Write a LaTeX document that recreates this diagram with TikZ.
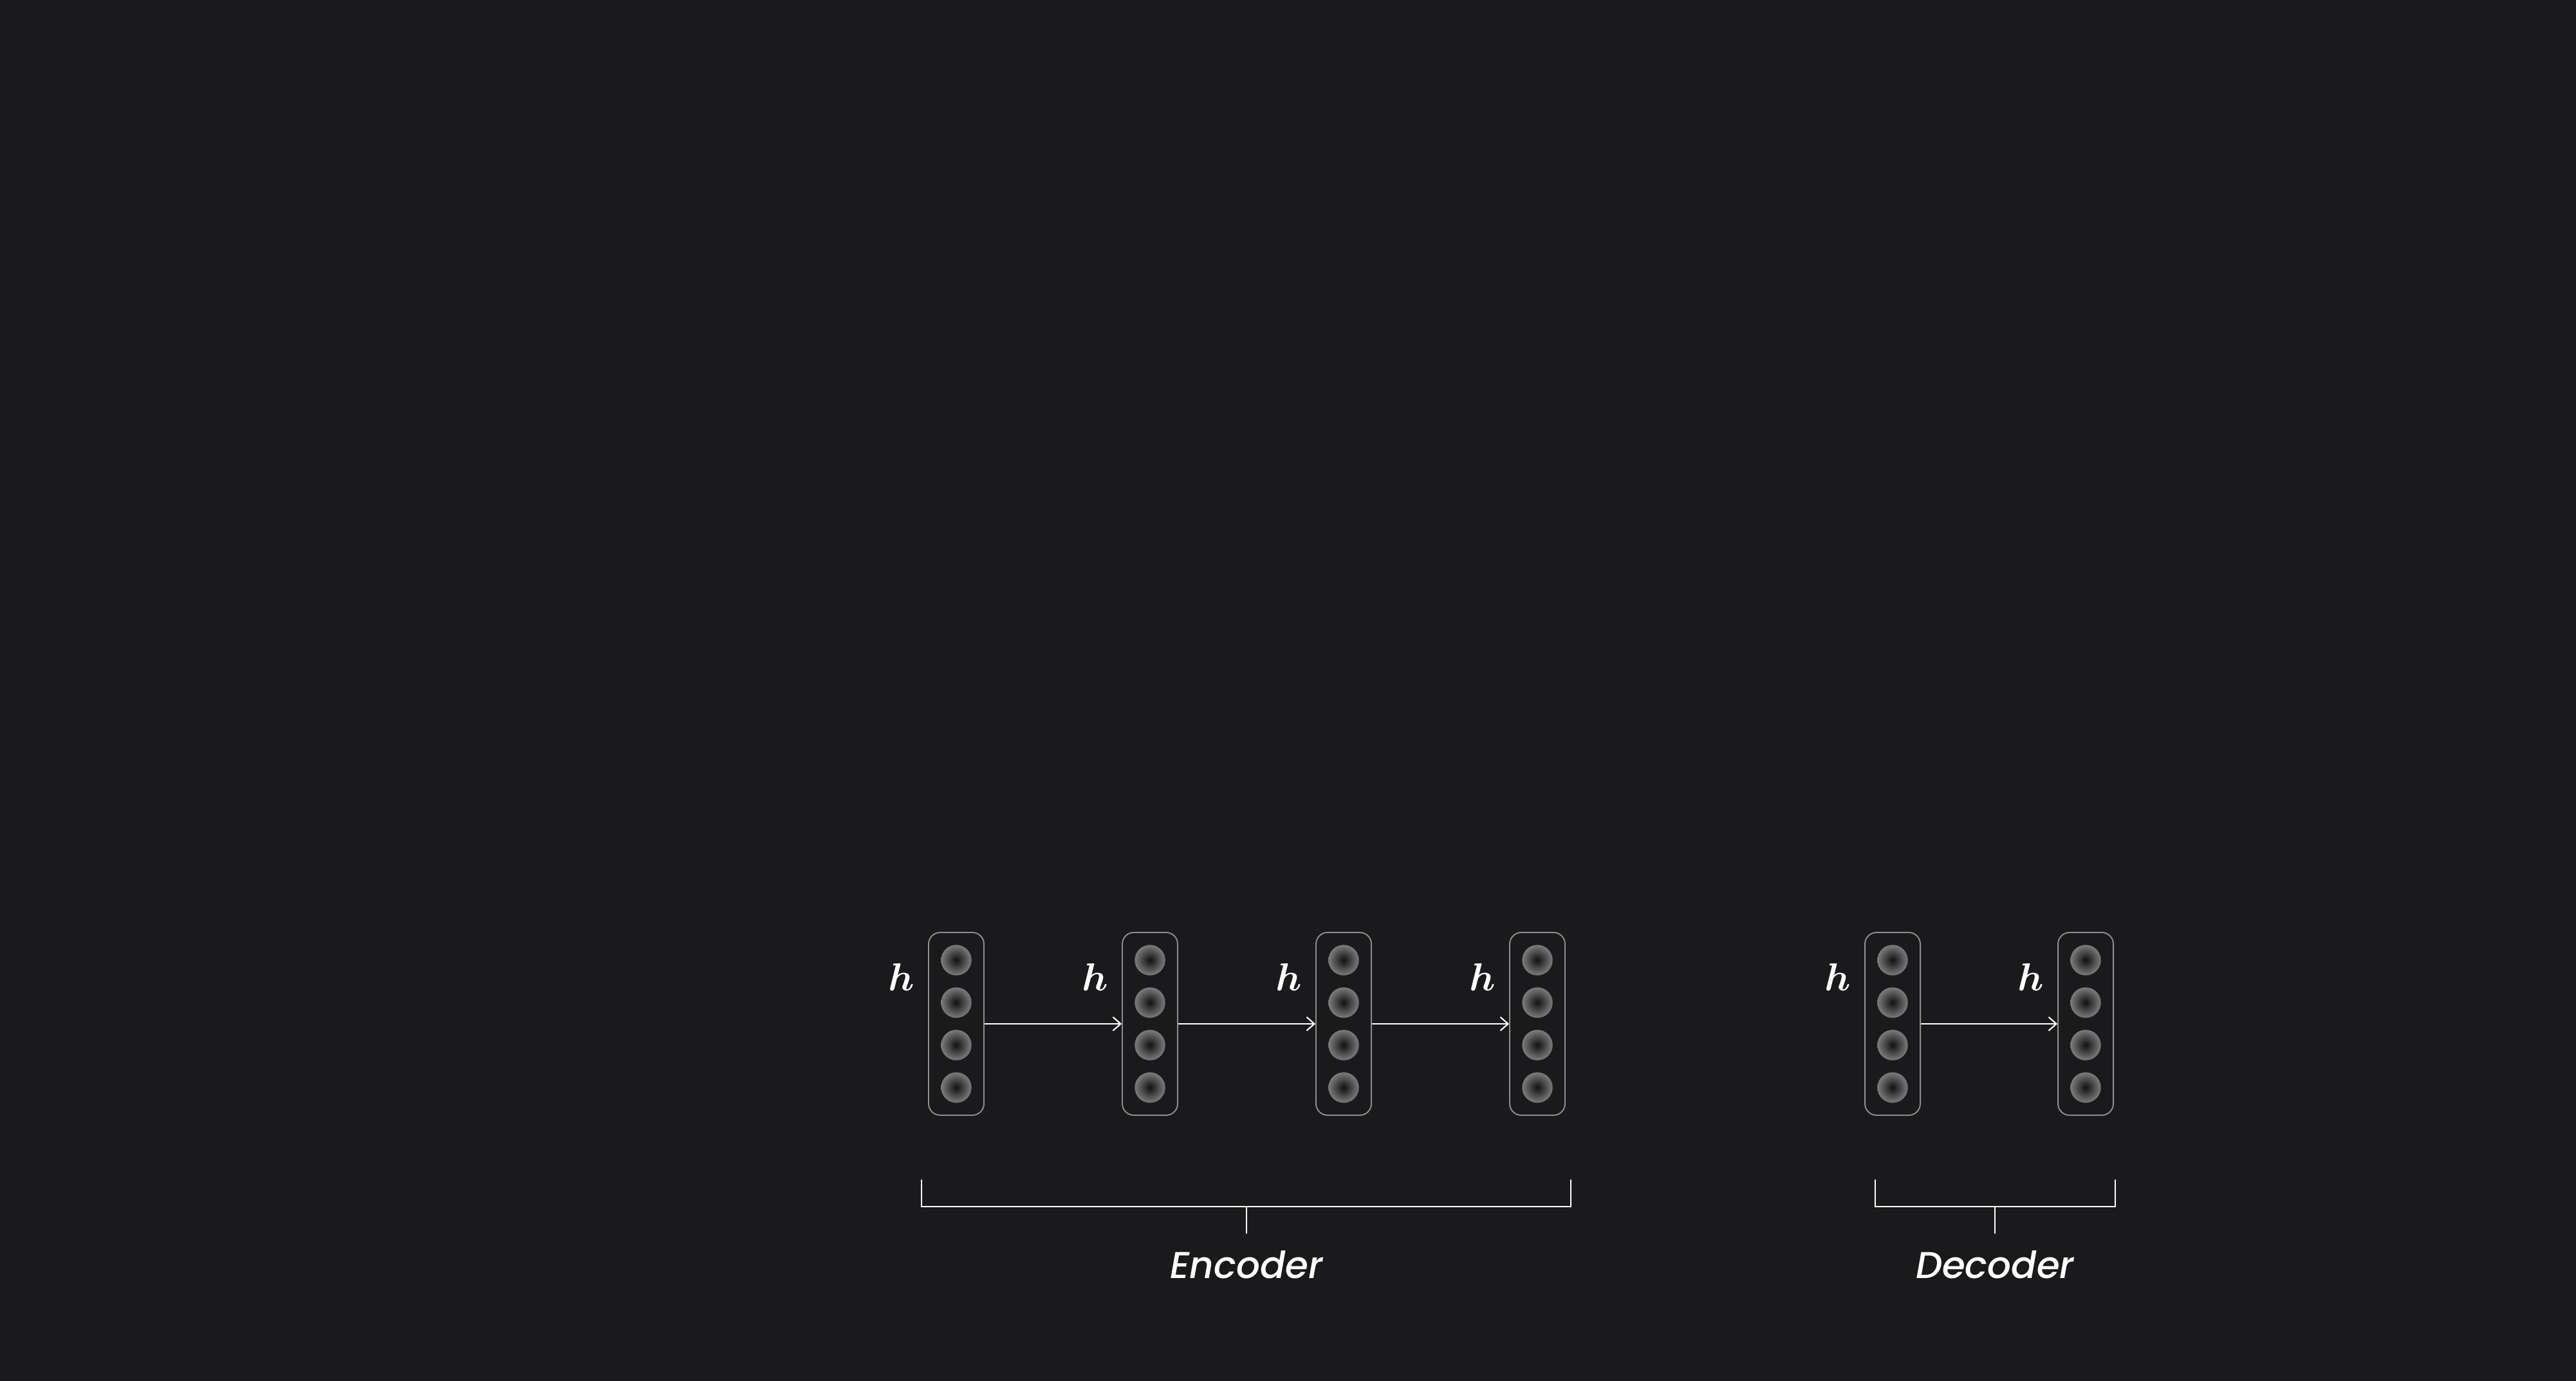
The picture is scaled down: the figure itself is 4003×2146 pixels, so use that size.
\documentclass[tikz,border=0pt]{standalone}
\usepackage{fontspec}
\usepackage{tikz}
\usetikzlibrary{arrows.meta,positioning}
\newfontfamily\tagfont{Poppins}[UprightFont=* Medium, ItalicFont=* Medium Italic]
\definecolor{backdrop}{HTML}{1A1A1C}
\definecolor{framegray}{HTML}{8E8E8E}
\definecolor{dotcore}{HTML}{111111}
\definecolor{dotrim}{HTML}{7C7C7C}

\begin{document}
\begin{tikzpicture}[x=0.1mm, y=-0.1mm, >={Straight Barb[length=3.4pt,width=6pt]},
    cell/.style={draw=framegray, line width=0.55pt, rounded corners=1.8mm,
        minimum width=8.6mm, minimum height=28.4mm, inner sep=0pt},
    unit/.style={circle, minimum size=4.74mm, inner sep=0pt,
        shading=radial, inner color=dotcore, outer color=dotrim},
    hlabel/.style={text=white, font=\boldmath\fontsize{18}{20}\selectfont, inner sep=0pt, anchor=base east},
    flow/.style={->, white, line width=0.6pt},
    brace/.style={white, line width=0.7pt},
    tag/.style={text=white, font=\tagfont\itshape\fontsize{16.5}{20}\selectfont, inner sep=0pt, anchor=base}]

    % Background
    \fill[backdrop] (0,0) rectangle (4003,2146);

    % Encoder states
    \foreach \i/\x in {1/1486,2/1787,3/2088,4/2389} {
        \node[cell] (e\i) at (\x,1591) {};
        \foreach \k/\s in {1/9.9,2/3.3,3/-3.3,4/-9.9}
            \node[unit] (e\i u\k) at ([yshift=\s mm]e\i.center) {};
        \node[hlabel] (he\i) at ([xshift=-2mm,yshift=5.2mm]e\i.west) {$h$};
    }

    % Decoder states
    \foreach \i/\x in {1/2941,2/3241} {
        \node[cell] (d\i) at (\x,1591) {};
        \foreach \k/\s in {1/9.9,2/3.3,3/-3.3,4/-9.9}
            \node[unit] (d\i u\k) at ([yshift=\s mm]d\i.center) {};
        \node[hlabel] (hd\i) at ([xshift=-2mm,yshift=5.2mm]d\i.west) {$h$};
    }

    % Recurrence
    \draw[flow] (e1.east) -- (e2.west);
    \draw[flow] (e2.east) -- (e3.west);
    \draw[flow] (e3.east) -- (e4.west);
    \draw[flow] (d1.east) -- (d2.west);

    % Encoder bracket
    \coordinate (encL) at (1432,1833);
    \coordinate (encR) at (2441,1833);
    \coordinate (encM) at (1937,1875);
    \node[tag] (enc) at (1937,1986) {Encoder};
    \draw[brace] (encL) |- (encR |- encM) -- (encR);
    \draw[brace] (encM) -- ++(0,42);

    % Decoder bracket
    \coordinate (decL) at (2914,1833);
    \coordinate (decR) at (3287,1833);
    \coordinate (decM) at (3100,1875);
    \node[tag] (dec) at (3100,1986) {Decoder};
    \draw[brace] (decL) |- (decR |- decM) -- (decR);
    \draw[brace] (decM) -- ++(0,42);
\end{tikzpicture}
\end{document}
